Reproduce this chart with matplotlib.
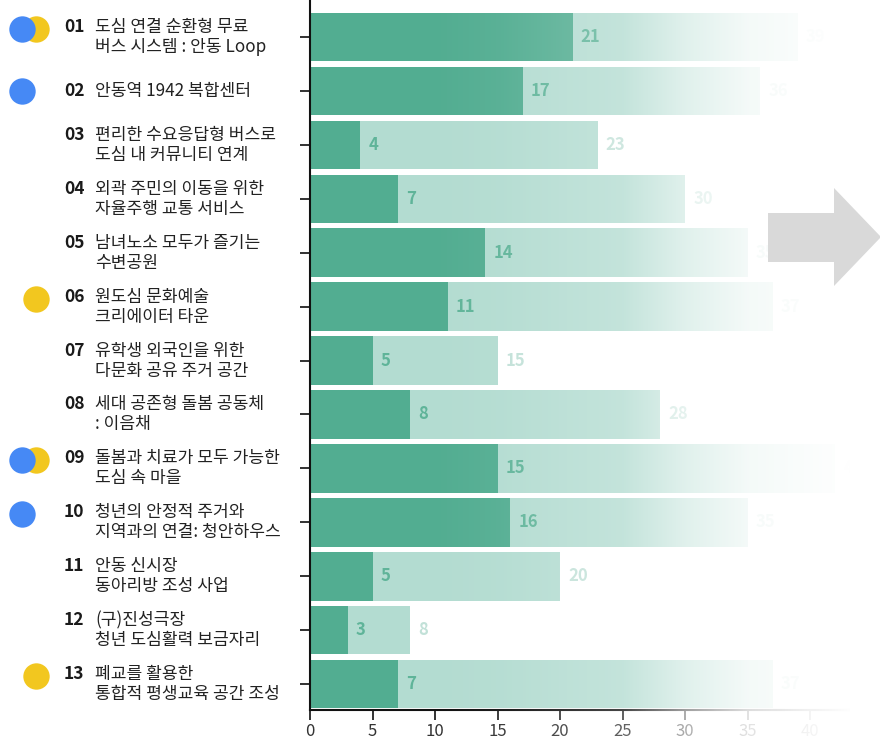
import numpy as np
import matplotlib
matplotlib.use('Agg')
import matplotlib.pyplot as plt
from matplotlib.patches import Polygon
import matplotlib.transforms as mtransforms

plt.rcParams['font.family'] = ['Noto Sans CJK KR', 'DejaVu Sans']

numbers = ['01', '02', '03', '04', '05', '06', '07', '08', '09', '10', '11', '12', '13']
names = [
    ['도심 연결 순환형 무료', '버스 시스템 : 안동 Loop'],
    ['안동역 1942 복합센터'],
    ['편리한 수요응답형 버스로', '도심 내 커뮤니티 연계'],
    ['외곽 주민의 이동을 위한', '자율주행 교통 서비스'],
    ['남녀노소 모두가 즐기는', '수변공원'],
    ['원도심 문화예술', '크리에이터 타운'],
    ['유학생 외국인을 위한', '다문화 공유 주거 공간'],
    ['세대 공존형 돌봄 공동체', ': 이음채'],
    ['돌봄과 치료가 모두 가능한', '도심 속 마을'],
    ['청년의 안정적 주거와', '지역과의 연결: 청안하우스'],
    ['안동 신시장', '동아리방 조성 사업'],
    ['(구)진성극장', '청년 도심활력 보금자리'],
    ['폐교를 활용한', '통합적 평생교육 공간 조성'],
]
dark_values = [21, 17, 4, 7, 14, 11, 5, 8, 15, 16, 5, 3, 7]
total_values = [39, 36, 23, 30, 35, 37, 15, 28, 42, 35, 20, 8, 37]
blue_flag = [1, 1, 0, 0, 0, 0, 0, 0, 1, 1, 0, 0, 0]
yellow_flag = [1, 0, 0, 0, 0, 1, 0, 0, 1, 0, 0, 0, 1]
xtick_values = [0, 5, 10, 15, 20, 25, 30, 35, 40]

W, H = 880, 744
fig = plt.figure(figsize=(W / 100, H / 100), dpi=100)
ax = fig.add_axes([310 / W, 34 / H, 550 / W, 710 / H])

ys = np.arange(len(dark_values))
DARK = '#52ad91'
LIGHT = '#b3dcd1'
ax.barh(ys, total_values, height=0.9, color=LIGHT, zorder=1)
ax.barh(ys, dark_values, height=0.9, color=DARK, zorder=2)

for i, (d, t) in enumerate(zip(dark_values, total_values)):
    ax.annotate(str(d), xy=(d, i), xytext=(6, 0), textcoords='offset points',
                va='center', ha='left', fontsize=12, fontweight='bold',
                color='#5fb499', zorder=3)
    ax.annotate(str(t), xy=(t, i), xytext=(6, 0), textcoords='offset points',
                va='center', ha='left', fontsize=12, fontweight='bold',
                color='#c2e1d8', zorder=3)

ax.set_xlim(0, 44)
ax.set_ylim(12.48, -0.686)
ax.set_xticks(xtick_values)
ax.set_yticks(ys)
ax.tick_params(axis='x', length=7, width=1.3, color='#222222', labelsize=12,
               labelcolor='#333333', pad=2)
ax.tick_params(axis='y', length=7, width=1.3, color='#222222', labelleft=False)
for s in ['top', 'right']:
    ax.spines[s].set_visible(False)
for s in ['left', 'bottom']:
    ax.spines[s].set_color('#111111')
    ax.spines[s].set_linewidth(1.5)

# left labels
LINE_PT = 10 * 0.72
for i, (num, lines) in enumerate(zip(numbers, names)):
    if len(lines) == 2:
        offs = [LINE_PT, -LINE_PT]
    else:
        offs = [0]
    ax.annotate(num, xy=(64 / W, i), xycoords=('figure fraction', 'data'),
                xytext=(0, offs[0]), textcoords='offset points',
                va='center', ha='left', fontsize=12.5, fontweight='bold',
                color='#1a1a1a', annotation_clip=False)
    for line, o in zip(lines, offs):
        ax.annotate(line, xy=(95 / W, i), xycoords=('figure fraction', 'data'),
                    xytext=(0, o), textcoords='offset points',
                    va='center', ha='left', fontsize=12.3,
                    color='#222222', annotation_clip=False)

# dots
base = mtransforms.blended_transform_factory(fig.transFigure, ax.transData)
for i in range(len(numbers)):
    dy = 8 / 100 if len(names[i]) == 2 else 0
    tr = base + mtransforms.ScaledTranslation(0, dy, fig.dpi_scale_trans)
    if yellow_flag[i]:
        ax.plot([36 / W], [i], 'o', ms=19, color='#f2c71f', mec='none',
                transform=tr, clip_on=False, zorder=5)
    if blue_flag[i]:
        ax.plot([22 / W], [i], 'o', ms=19, color='#4689f5', mec='none',
                transform=tr, clip_on=False, zorder=6)

# fade overlay
oax = fig.add_axes([430 / W, 0, 450 / W, 1], zorder=5)
oax.axis('off')
xs = np.linspace(430, 880, 451)
alpha = np.interp(xs, [430, 500, 570, 622, 685, 747, 810, 850],
                  [0, 0.05, 0.15, 0.22, 0.6, 0.86, 0.95, 1.0])
img = np.ones((1, len(xs), 4))
img[..., 3] = alpha
oax.imshow(img, aspect='auto', extent=[0, 1, 0, 1], interpolation='bilinear')
oax.set_xlim(0, 1)
oax.set_ylim(0, 1)

# arrow
pts = [(768, 213), (834, 213), (834, 188), (881, 237), (834, 286), (834, 262), (768, 262)]
arrow = Polygon([(x / W, 1 - y / H) for x, y in pts], closed=True,
                transform=fig.transFigure, facecolor='#d9d9d9', edgecolor='none',
                zorder=10)
fig.patches.append(arrow)

fig.savefig('out.png', dpi=100)
